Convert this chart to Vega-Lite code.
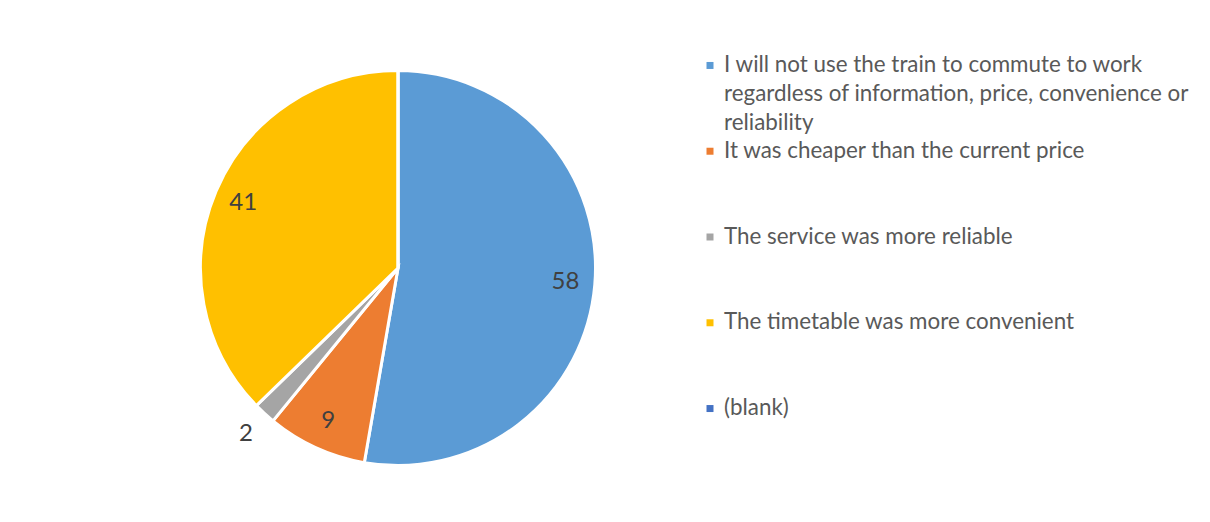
{
  "$schema": "https://vega.github.io/schema/vega-lite/v6.json",
  "background": "white",
  "padding": {"left": 118, "top": 14, "right": 0, "bottom": 0},
  "spacing": 20,
  "config": {"view": {"stroke": null}, "font": "Lato"},
  "datasets": {
    "slices": [
      {"rank": 1, "category": "I will not use the train to commute to work\nregardless of information, price, convenience or\nreliability", "count": 58},
      {"rank": 2, "category": "It was cheaper than the current price", "count": 9},
      {"rank": 3, "category": "The service was more reliable", "count": 2},
      {"rank": 4, "category": "The timetable was more convenient", "count": 41},
      {"rank": 5, "category": "(blank)", "count": 0}
    ]
  },
  "hconcat": [
    {
      "width": 560,
      "height": 508,
      "data": {"name": "slices"},
      "encoding": {
        "theta": {"field": "count", "type": "quantitative", "stack": true},
        "order": {"field": "rank", "type": "quantitative", "sort": "ascending"}
      },
      "layer": [
        {
          "mark": {"type": "arc", "outerRadius": 197.5, "stroke": "white", "strokeWidth": 3},
          "encoding": {
            "color": {
              "field": "category",
              "type": "nominal",
              "scale": {
                "domain": [
                  "I will not use the train to commute to work\nregardless of information, price, convenience or\nreliability",
                  "It was cheaper than the current price",
                  "The service was more reliable",
                  "The timetable was more convenient",
                  "(blank)"
                ],
                "range": ["#5B9BD5", "#ED7D31", "#A5A5A5", "#FFC000", "#4472C4"]
              },
              "legend": null
            }
          }
        },
        {
          "mark": {"type": "text", "radius": 168, "fontSize": 24, "fill": "#404040", "align": "center", "baseline": "middle"},
          "encoding": {
            "text": {"condition": {"test": "datum.count >= 5", "field": "count", "type": "quantitative"}, "value": ""}
          }
        },
        {
          "mark": {"type": "text", "radius": 225, "fontSize": 24, "fill": "#404040", "align": "center", "baseline": "middle"},
          "encoding": {
            "text": {"condition": {"test": "datum.count > 0 && datum.count < 5", "field": "count", "type": "quantitative"}, "value": ""}
          }
        }
      ]
    },
    {
      "width": 24,
      "height": 446,
      "data": {"name": "slices"},
      "encoding": {
        "y": {
          "field": "category",
          "type": "nominal",
          "scale": {
            "type": "point",
            "padding": 0.6,
            "domain": [
              "I will not use the train to commute to work\nregardless of information, price, convenience or\nreliability",
              "It was cheaper than the current price",
              "The service was more reliable",
              "The timetable was more convenient",
              "(blank)"
            ]
          },
          "axis": null
        }
      },
      "layer": [
        {
          "mark": {"type": "point", "shape": "square", "filled": true, "size": 49, "opacity": 1},
          "encoding": {
            "color": {
              "field": "category",
              "type": "nominal",
              "scale": {
                "domain": [
                  "I will not use the train to commute to work\nregardless of information, price, convenience or\nreliability",
                  "It was cheaper than the current price",
                  "The service was more reliable",
                  "The timetable was more convenient",
                  "(blank)"
                ],
                "range": ["#5B9BD5", "#ED7D31", "#A5A5A5", "#FFC000", "#4472C4"]
              },
              "legend": null
            }
          }
        },
        {
          "mark": {"type": "text", "align": "left", "dx": 14, "baseline": "line-top", "dy": -14.5, "lineHeight": 29, "lineBreak": "\n", "fontSize": 22.4, "fill": "#595959"},
          "encoding": {
            "text": {"field": "category", "type": "nominal"}
          }
        }
      ]
    }
  ]
}
